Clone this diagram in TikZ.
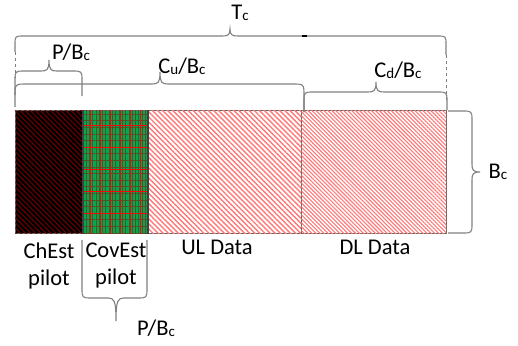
\documentclass[tikz,border=0pt]{standalone}
\usepackage{fontspec}
\setmainfont{Carlito}
\usetikzlibrary{patterns.meta}
\definecolor{brgray}{RGB}{128,128,128}
\definecolor{cellgreen}{RGB}{0,170,80}
\definecolor{chred}{RGB}{115,0,0}
\definecolor{ulred}{RGB}{255,120,120}
\newcommand{\sbc}[1]{\raisebox{-1.5pt}{\fontsize{15}{15}\selectfont #1}}
\newcommand{\tbrace}[8]{%
 \draw[br] (#1,#3) -- (#1,#5+#8) .. controls (#1,#5) .. (#1+#8,#5) -- (#6-8,#5)
   .. controls (#6-2,#5) and (#6,#5-1) .. (#6,#7)
   .. controls (#6,#5-1) and (#6+2,#5) .. (#6+8,#5) -- (#2-#8,#5)
   .. controls (#2,#5) .. (#2,#5+#8) -- (#2,#4);}
\begin{document}
\begin{tikzpicture}[x=1pt,y=-1pt,
  br/.style={draw=brgray,line width=1.1pt},
  cell/.style={rectangle,inner sep=0pt,minimum height=123pt,anchor=north west,draw=gray!80!black,line width=0.8pt},
  lbl/.style={font=\fontsize{22.5}{27}\selectfont,inner sep=0pt,align=center}]
\useasboundingbox (0,0) rectangle (518,345);
% cells
\node[cell,minimum width=67pt,fill=black,
  postaction={pattern={Lines[angle=-45,distance=3.6pt,line width=1.0pt]},pattern color=chred}] (ch) at (15,110) {};
\node[cell,minimum width=65pt,fill=cellgreen,
  postaction={pattern={Lines[angle=90,distance=3.3pt,line width=0.25pt]},pattern color=cellgreen!60!red!80!black},
  postaction={pattern={Lines[angle=0,distance=6.6pt,line width=0.25pt]},pattern color=cellgreen!60!red!80!black},
  postaction={pattern={Lines[angle=90,distance=10pt,line width=0.6pt]},pattern color=red},
  postaction={pattern={Lines[angle=0,distance=22pt,line width=0.8pt]},pattern color=red}] (cov) at (82,110) {};
\node[cell,minimum width=154pt,fill=white,
  postaction={pattern={Lines[angle=-45,distance=3.6pt,line width=1.4pt]},pattern color=ulred}] (ul) at (147,110) {};
\node[cell,minimum width=145pt,fill=white,
  postaction={pattern={Lines[angle=-45,distance=2.8pt,line width=1.1pt]},pattern color=ulred}] (dl) at (301,110) {};
\draw[line width=1.6pt,black!75] (ch.north east) -- (ch.south east);
\draw[line width=1.6pt,black!75] (cov.north east) -- (cov.south east);
% braces
\tbrace{15}{446}{52}{55}{36}{230}{29}{9}
\draw[brgray,line width=0.9pt,dashed] (15,52) -- (15,78);
\draw[brgray,line width=0.9pt,dashed] (446,55) -- (446,100);
\draw[line width=1.8pt,black] (302,36) -- (307,36);
\tbrace{15}{82}{95}{96}{71}{49}{60}{10}
\tbrace{15}{304}{107}{112}{84}{160}{72}{12}
\tbrace{304}{447}{112}{110}{92}{376}{82}{10}
\draw[br] (448,111) -- (462,111) .. controls (472,111) .. (472,121) -- (472,164)
  .. controls (472,170) and (473,172) .. (480,172)
  .. controls (473,172) and (472,174) .. (472,180) -- (472,223)
  .. controls (472,233) .. (462,233) -- (448,233);
\draw[br] (82,240) -- (82,288) .. controls (82,298) .. (92,298) -- (108,298)
  .. controls (114,298) and (116,300) .. (116,321)
  .. controls (116,300) and (118,298) .. (124,298) -- (137,298)
  .. controls (147,298) .. (147,288) -- (147,240);
% labels
\node[lbl] (tc) at (240,13) {T\sbc{c}};
\node[lbl] (pb1) at (71,52) {P/B\sbc{c}};
\node[lbl] (cu) at (182,66) {C\sbc{u}/B\sbc{c}};
\node[lbl] (cd) at (398,70) {C\sbc{d}/B\sbc{c}};
\node[lbl] (bc) at (498,172) {B\sbc{c}};
\node[lbl] (chl) at (49,266) {ChEst\\pilot};
\node[lbl] (covl) at (116,266) {CovEst\\pilot};
\node[lbl] (ull) at (217,247) {UL Data};
\node[lbl] (dll) at (375,247) {DL Data};
\node[lbl] (pb2) at (156,328) {P/B\sbc{c}};
\end{tikzpicture}
\end{document}
